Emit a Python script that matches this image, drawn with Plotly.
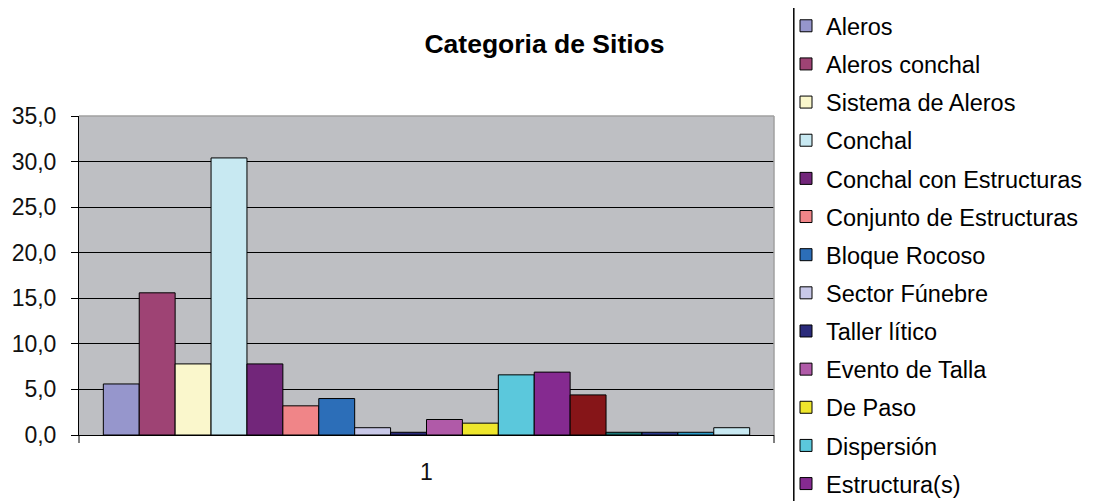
import plotly.graph_objects as go

title_text = "Categoria de Sitios"
category = ["1"]
series_names = [
    "Aleros", "Aleros conchal", "Sistema de Aleros", "Conchal",
    "Conchal con Estructuras", "Conjunto de Estructuras", "Bloque Rocoso",
    "Sector Fúnebre", "Taller lítico", "Evento de Talla", "De Paso",
    "Dispersión", "Estructura(s)",
    "Serie14", "Serie15", "Serie16", "Serie17", "Serie18",
]
series_values = [5.6, 15.6, 7.8, 30.4, 7.8, 3.2, 4.0, 0.8, 0.3, 1.7, 1.3,
                 6.6, 6.9, 4.4, 0.3, 0.3, 0.3, 0.8]
series_colors = [
    "#9696CC", "#9E4374", "#FAF7CC", "#C8E9F2", "#72267A", "#F08588",
    "#2C6EB8", "#C8C8E8", "#2A2A7A", "#B05AA8", "#EEE62C", "#5BC8DC",
    "#852A90", "#861518", "#1A7575", "#2A3A8A", "#2A9AC8", "#C8E9F2",
]
legend_visible = [True] * 13 + [False] * 5
y_ticks = [0, 5, 10, 15, 20, 25, 30, 35]

W, H = 1095, 501
L, R, T, B = 75, 777, 116, 435

fig = go.Figure()
for name, val, col, vis in zip(series_names, series_values, series_colors, legend_visible):
    fig.add_trace(go.Bar(
        x=category, y=[val], name=name, legendgroup=name,
        marker=dict(color=col, line=dict(color="#000000", width=1)),
        showlegend=vis,
    ))

font_family = "Liberation Sans, Arial, sans-serif"

legend_cfg = dict(xref="container", yref="container", x=786 / W, y=1 - 4 / H,
                  xanchor="left", yanchor="top", tracegroupgap=4.6,
                  font=dict(size=23.5, family=font_family, color="#000000"),
                  bgcolor="rgba(0,0,0,0)", borderwidth=0)

fig.update_layout(
    width=W, height=H,
    margin=dict(l=L, r=W - R, t=T, b=H - B, pad=0),
    paper_bgcolor="#FFFFFF",
    plot_bgcolor="#BEBFC3",
    separators=",.",
    barmode="group", bargap=0.07, bargroupgap=0,
    font=dict(family=font_family, color="#000000", size=23),
    title=dict(text="<b>" + title_text + "</b>", xref="container", yref="container",
               x=544.5 / W, y=1 - 44 / H, xanchor="center", yanchor="middle",
               font=dict(size=26.5, family=font_family, color="#000000")),
    legend=legend_cfg,
    showlegend=True,
)
try:
    fig.update_layout(legend_maxheight=800)
except Exception:
    pass

fig.update_yaxes(
    range=[0, 35], tickvals=y_ticks, tickformat=".1f",
    showgrid=True, gridcolor="#000000", gridwidth=1, zeroline=False,
    showline=True, linecolor="#000000", linewidth=1,
    ticks="outside", ticklen=7, tickcolor="#000000", tickwidth=1,
    ticklabelstandoff=10, tickfont=dict(size=23, color="#111111"),
)
fig.update_xaxes(
    type="category", showgrid=False, zeroline=False,
    showline=True, linecolor="#000000", linewidth=1,
    ticks="", ticklabelstandoff=16, tickfont=dict(size=23, color="#111111"),
)

ph = B - T
pw = R - L
shapes = [
    dict(type="line", xref="paper", yref="paper", x0=0, x1=1, y0=1, y1=1,
         line=dict(color="#A0A0A0", width=1.5), layer="above"),
    dict(type="line", xref="paper", yref="paper", x0=1, x1=1, y0=0, y1=1,
         line=dict(color="#A0A0A0", width=1.5), layer="above"),
    dict(type="line", xref="paper", yref="paper", x0=0, x1=0, y0=0, y1=-8 / ph,
         line=dict(color="#000000", width=1)),
    dict(type="line", xref="paper", yref="paper", x0=1, x1=1, y0=0, y1=-8 / ph,
         line=dict(color="#000000", width=1)),
    dict(type="line", xref="paper", yref="paper",
         x0=(797 - L) / pw, x1=(797 - L) / pw,
         y0=(B - 8) / ph, y1=(B - H - 5) / ph,
         line=dict(color="#000000", width=1.5)),
]
fig.update_layout(shapes=shapes)

fig.write_html("out.html")
